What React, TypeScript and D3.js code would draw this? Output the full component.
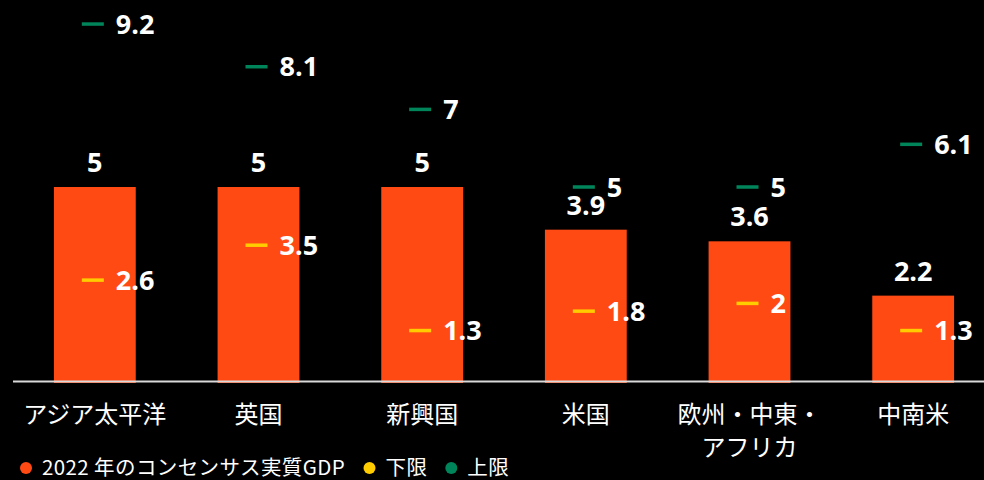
import React, { useEffect } from "react";
import * as d3 from "d3";

const categories = ["アジア太平洋", "英国", "新興国", "米国", "欧州・中東・\nアフリカ", "中南米"];
const consensus = [5, 5, 5, 3.9, 3.6, 2.2];
const lower = [2.6, 3.5, 1.3, 1.8, 2, 1.3];
const upper = [9.2, 8.1, 7, 5, 5, 6.1];

const legendItems = [
  { label: "2022 年のコンセンサス実質GDP", color: "#FF4A14" },
  { label: "下限", color: "#FFCC00" },
  { label: "上限", color: "#00855A" },
];

const BAR_COLOR = "#FF4A14";
const LOW_COLOR = "#FFCC00";
const HIGH_COLOR = "#00855A";
const NUM_FONT = "'Open Sans', 'DejaVu Sans', sans-serif";
const JP_FONT = "'Noto Sans CJK JP', sans-serif";

const width = 984;
const height = 480;
const baseline = 381;
const legendFontSize = 20.5;
const legendSpacing = 0.4;

function measure(text: string, font: string) {
  const ctx = document.createElement("canvas").getContext("2d");
  if (!ctx) return text.length * 17;
  ctx.font = font;
  return ctx.measureText(text).width;
}

export default function App() {
  useEffect(() => {
    document.body.style.margin = "0";
    document.body.style.background = "#000";
  }, []);

  // Set up scales
  const x = d3
    .scaleBand<string>()
    .domain(categories)
    .range([13, 995])
    .paddingInner(0.5)
    .paddingOuter(0.25);

  const y = d3.scaleLinear().domain([0, 10]).range([baseline, baseline - 388]);

  const cx = (i: number) => (x(categories[i]) ?? 0) + x.bandwidth() / 2;

  // legend layout
  let lx = 26;
  const legendPos = legendItems.map((item) => {
    const pos = lx;
    lx +=
      16 +
      measure(item.label, `${legendFontSize}px ${JP_FONT}`) +
      item.label.length * legendSpacing +
      24;
    return pos;
  });

  return (
    <svg width={width} height={height} style={{ display: "block", background: "#000" }}>
      {/* bars */}
      {consensus.map((v, i) => (
        <rect
          key={"bar" + i}
          x={x(categories[i])}
          y={y(v)}
          width={x.bandwidth()}
          height={baseline + 2 - y(v)}
          fill={BAR_COLOR}
        />
      ))}

      {/* axis line */}
      <line x1={13} x2={width} y1={baseline + 0.5} y2={baseline + 0.5} stroke="#d9d9d9" strokeWidth={2} />

      {/* bar value labels */}
      {consensus.map((v, i) => (
        <text
          key={"bv" + i}
          x={cx(i)}
          y={y(v) - 15}
          textAnchor="middle"
          fill="#fff"
          fontFamily={NUM_FONT}
          fontWeight={700}
          fontSize={27}
        >
          {v}
        </text>
      ))}

      {/* lower / upper markers */}
      {[
        { vals: lower, color: LOW_COLOR },
        { vals: upper, color: HIGH_COLOR },
      ].map((s, si) =>
        s.vals.map((v, i) => (
          <g key={"m" + si + "-" + i}>
            <line
              x1={cx(i) - 13}
              x2={cx(i) + 9}
              y1={y(v)}
              y2={y(v)}
              stroke={s.color}
              strokeWidth={3.5}
            />
            <text
              x={cx(i) + 21}
              y={y(v)}
              dy="0.36em"
              fill="#fff"
              fontFamily={NUM_FONT}
              fontWeight={700}
              fontSize={27}
            >
              {v}
            </text>
          </g>
        ))
      )}

      {/* category labels */}
      {categories.map((c, i) => (
        <text
          key={"c" + i}
          x={cx(i)}
          y={423}
          textAnchor="middle"
          fill="#fff"
          fontFamily={JP_FONT}
          fontSize={24}
        >
          {c.split("\n").map((line, li) => (
            <tspan key={li} x={cx(i)} dy={li === 0 ? 0 : 33}>
              {line}
            </tspan>
          ))}
        </text>
      ))}

      {/* legend */}
      {legendItems.map((item, i) => (
        <g key={"lg" + i} transform={`translate(${legendPos[i]},468)`}>
          <circle cx={0} cy={0} r={6} fill={item.color} />
          <text
            x={16}
            y={0}
            dy="0.36em"
            fill="#fff"
            fontFamily={JP_FONT}
            fontSize={legendFontSize}
            letterSpacing={legendSpacing}
          >
            {item.label}
          </text>
        </g>
      ))}
    </svg>
  );
}
